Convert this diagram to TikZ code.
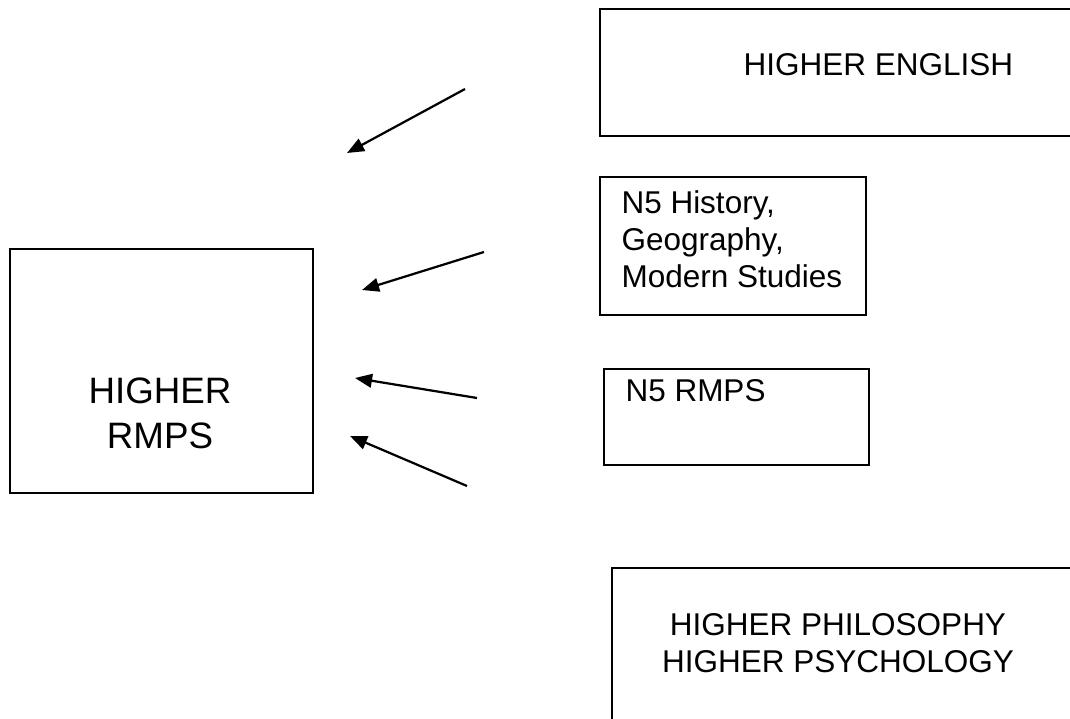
\documentclass[tikz,border=0pt]{standalone}
\usepackage{fontspec}
\setmainfont{Liberation Sans}
\usetikzlibrary{arrows.meta,fit}
\begin{document}
\begin{tikzpicture}[x=0.381pt,y=-0.381pt,
  box/.style={draw=black,line width=0.7pt,inner sep=0pt},
  lbl/.style={inner sep=0pt,font=\fontsize{12}{14}\selectfont},
  big/.style={inner sep=0pt,font=\fontsize{14}{16}\selectfont},
  conn/.style={line width=0.85pt,-{Triangle[length=6.5pt,width=5.2pt]}}]
\useasboundingbox (0,0) rectangle (1070,719);
\clip (0,0) rectangle (1070,719);
% boxes
\node[box,fit={(10,249)(313,493)}] (rmps) {};
\node[box,fit={(600,9)(1100,136)}] (eng) {};
\node[box,fit={(600,177)(866,315)}] (hist) {};
\node[box,fit={(604,369)(869,465)}] (nfive) {};
\node[box,fit={(612,568)(1100,760)}] (phil) {};
% texts
\node[big,anchor=base] (rmpsA) at (160,403) {HIGHER};
\node[big,anchor=base] (rmpsB) at (160,448) {RMPS};
\node[lbl,anchor=base west] (engA) at (743,76) {HIGHER ENGLISH};
\node[lbl,anchor=base west] (histA) at (621,214) {N5 History,};
\node[lbl,anchor=base west] (histB) at (621,251) {Geography,};
\node[lbl,anchor=base west] (histC) at (621,288) {Modern Studies};
\node[lbl,anchor=base west] (nfiveA) at (625,402) {N5 RMPS};
\node[lbl,anchor=base] (philA) at (838,635) {HIGHER PHILOSOPHY};
\node[lbl,anchor=base] (philB) at (838,672) {HIGHER PSYCHOLOGY};
% arrows
\coordinate (aS) at (465,89);  \coordinate (aE) at (347,153);
\coordinate (bS) at (484,252); \coordinate (bE) at (362,290);
\coordinate (cS) at (477,398); \coordinate (cE) at (355,378);
\coordinate (dS) at (467,486); \coordinate (dE) at (350,436);
\draw[conn] (aS) -- (aE);
\draw[conn] (bS) -- (bE);
\draw[conn] (cS) -- (cE);
\draw[conn] (dS) -- (dE);
\end{tikzpicture}
\end{document}
